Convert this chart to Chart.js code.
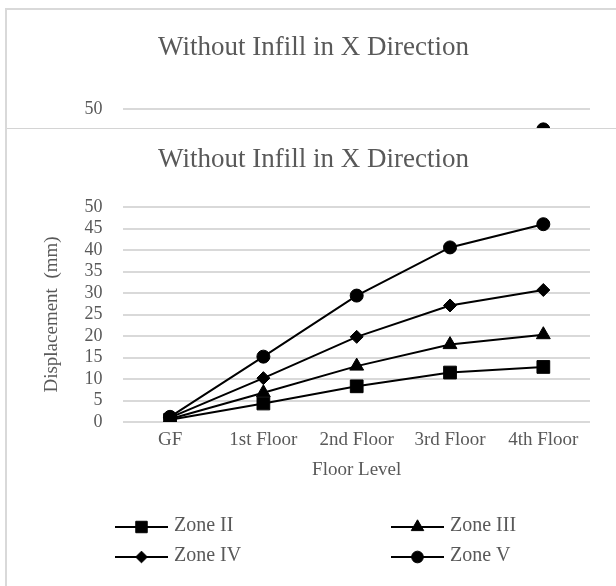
<!DOCTYPE html>
<html>
<head>
<meta charset="utf-8">
<title>Without Infill in X Direction</title>
<script src="https://cdn.jsdelivr.net/npm/chart.js@4.4.1/dist/chart.umd.min.js"></script>
<style>
  html, body { margin: 0; padding: 0; background: #fff; }
  body { width: 616px; height: 586px; position: relative; overflow: hidden; }
  #edge { position: absolute; left: 5px; top: 8px; width: 2px; height: 578px; background: #d9d9d9; }
  #topBox { position: absolute; left: 7px; top: 8px; width: 609px; height: 120px;
            box-sizing: border-box; border-top: 2px solid #d9d9d9; overflow: hidden; }
  #mainBox { position: absolute; left: 7px; top: 128px; width: 609px; height: 458px;
             box-sizing: border-box; border-top: 1px solid #d4d4d4; overflow: hidden; }
  canvas { display: block; position: absolute; left: 0; top: 0; }
</style>
</head>
<body>
<div id="edge"></div>
<div id="topBox"><canvas id="topChart" width="609" height="520"></canvas></div>
<div id="mainBox"><canvas id="mainChart" width="609" height="457"></canvas></div>

<script>
// chart data
const floors = ['GF', '1st Floor', '2nd Floor', '3rd Floor', '4th Floor'];
const zoneNames = ['Zone II', 'Zone III', 'Zone IV', 'Zone V'];
const zone2 = [0.5, 4.3, 8.3, 11.5, 12.8];
const zone3 = [0.7, 6.8, 13.0, 18.0, 20.3];
const zone4 = [1.0, 10.2, 19.8, 27.1, 30.7];
const zone5 = [1.2, 15.2, 29.4, 40.6, 46.0];
const yMin = 0;
const yMax = 50;
const yStep = 5;
const topStep = 10;   // the cut-off copy at the top only shows its 50 line

const FONT = "'Liberation Serif', 'Times New Roman', serif";
const TEXT = '#595959';
const GRID = '#d9d9d9';

const markers = [
    { style: 'rect', radius: 9 },
    { style: 'triangle', radius: 8 },
    { style: 'rectRot', radius: 6.5 },
    { style: 'circle', radius: 6.5 }
];

// legend in two columns under the plot
const legendCols = [108, 384];
const legendRows = [105, 135];

const gridLegend = {
    id: 'gridLegend',
    afterDraw(chart) {
        const ctx = chart.ctx;
        const base = chart.chartArea.bottom;
        ctx.save();
        chart.data.datasets.forEach(function(ds, i) {
            const x = legendCols[i % 2];
            const y = base + legendRows[Math.floor(i / 2)];
            ctx.strokeStyle = ds.borderColor;
            ctx.lineWidth = 2;
            ctx.beginPath();
            ctx.moveTo(x, y);
            ctx.lineTo(x + 53, y);
            ctx.stroke();
            ctx.fillStyle = ds.pointBackgroundColor;
            ctx.lineWidth = 1;
            Chart.helpers.drawPoint(ctx, {
                pointStyle: ds.pointStyle,
                radius: ds.pointRadius * 0.9,
                rotation: 0,
                borderWidth: 1
            }, x + 26.5, y);
            ctx.fillStyle = TEXT;
            ctx.font = '20px ' + FONT;
            ctx.textAlign = 'left';
            ctx.textBaseline = 'middle';
            ctx.fillText(ds.label, x + 59, y - 1);
        });
        ctx.restore();
    }
};

function makeConfig(step, titlePad, layoutPad) {
    const series = [zone2, zone3, zone4, zone5];
    return {
        type: 'line',
        data: {
            labels: floors,
            datasets: series.map(function(values, i) {
                return {
                    label: zoneNames[i],
                    data: values,
                    borderColor: '#000',
                    borderWidth: 2,
                    pointStyle: markers[i].style,
                    pointRadius: markers[i].radius,
                    pointBackgroundColor: '#000',
                    pointBorderColor: '#000',
                    pointBorderWidth: 1,
                    tension: 0,
                    fill: false
                };
            })
        },
        options: {
            responsive: false,
            animation: false,
            devicePixelRatio: 1,
            layout: { padding: layoutPad },
            plugins: {
                legend: { display: false },
                tooltip: { enabled: false },
                title: {
                    display: true,
                    text: 'Without Infill in X Direction',
                    color: TEXT,
                    font: { family: FONT, size: 27, weight: 'normal' },
                    padding: titlePad
                }
            },
            scales: {
                x: {
                    offset: true,
                    grid: { display: false, drawTicks: false },
                    border: { display: false },
                    ticks: {
                        color: TEXT,
                        font: { family: FONT, size: 19 },
                        padding: 7,
                        maxRotation: 0,
                        autoSkip: false
                    },
                    title: {
                        display: true,
                        text: 'Floor Level',
                        color: TEXT,
                        font: { family: FONT, size: 19 },
                        padding: { top: 0, bottom: 0 }
                    }
                },
                y: {
                    min: yMin,
                    max: yMax,
                    grid: { color: GRID, lineWidth: 2, drawTicks: false },
                    border: { display: false },
                    ticks: {
                        stepSize: step,
                        autoSkip: false,
                        color: TEXT,
                        font: { family: FONT, size: 18 },
                        padding: 21
                    },
                    title: {
                        display: true,
                        text: 'Displacement  (mm)',
                        color: TEXT,
                        font: { family: FONT, size: 19 },
                        padding: { top: 3.6, bottom: 0 }
                    }
                }
            }
        },
        plugins: [gridLegend]
    };
}

new Chart(document.getElementById('topChart'),
    makeConfig(topStep, { top: 22, bottom: 45 }, { left: 30, right: 26, top: 0, bottom: 111.4 }));
new Chart(document.getElementById('mainChart'),
    makeConfig(yStep, { top: 15, bottom: 30.6 }, { left: 30, right: 26, top: 0, bottom: 104.4 }));
</script>
</body>
</html>
